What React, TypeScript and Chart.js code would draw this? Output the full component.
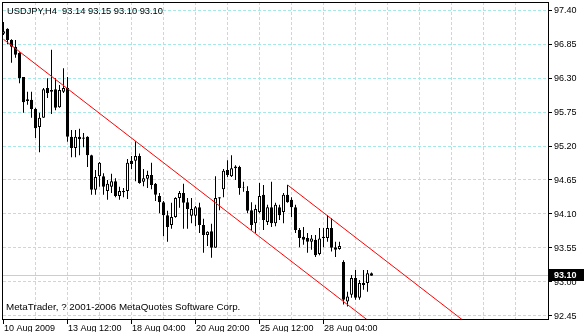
import React, { useEffect, useRef } from 'react';
import { Chart, registerables } from 'chart.js';

Chart.register(...registerables);

// ---- data (USDJPY, H4) ----
const opens = [
  97.02, 97.10, 96.92, 96.81, 96.71, 96.32, 95.96, 95.95, 95.80, 95.51,
  95.66, 96.14, 96.08, 96.12, 95.83, 96.08, 96.14, 95.35, 95.17, 95.35,
  95.34, 95.35, 95.05, 94.49, 94.71, 94.71, 94.47, 94.54, 94.63, 94.39,
  94.47, 94.47, 94.96, 94.96, 95.04, 94.62, 94.67, 94.73, 94.59, 94.39,
  94.29, 94.08, 93.92, 94.05, 94.36, 94.44, 94.29, 94.07, 94.07, 94.21,
  93.92, 93.76, 93.82, 93.55, 94.37, 94.50, 94.81, 94.71, 94.87, 94.86,
  94.53, 94.47, 94.16, 93.95, 94.13, 94.41, 93.97, 94.21, 93.95, 94.21,
  94.13, 94.41, 94.33, 94.21, 93.84, 93.73, 93.71, 93.65, 93.68, 93.45,
  93.71, 93.71, 93.87, 93.56, 93.53, 93.32, 92.68, 92.79, 93.06, 92.74,
  92.95, 92.98, 93.14,
];
const highs = [
  97.21, 97.11, 96.93, 96.92, 96.72, 96.32, 96.08, 96.08, 95.82, 95.74,
  96.14, 96.30, 96.76, 96.30, 96.19, 96.46, 96.32, 95.46, 95.46, 95.48,
  95.41, 95.36, 95.06, 94.81, 94.94, 94.76, 94.65, 94.75, 94.68, 94.54,
  94.52, 94.99, 95.04, 95.28, 95.08, 94.83, 94.80, 94.93, 94.60, 94.44,
  94.31, 94.15, 94.28, 94.37, 94.47, 94.59, 94.36, 94.36, 94.23, 94.28,
  94.02, 93.82, 93.94, 94.71, 94.37, 94.83, 94.97, 95.05, 94.89, 94.88,
  94.62, 94.55, 94.29, 94.25, 94.60, 94.57, 94.25, 94.62, 94.28, 94.25,
  94.44, 94.57, 94.37, 94.25, 93.87, 93.89, 93.79, 93.76, 93.76, 93.87,
  93.87, 94.08, 94.03, 93.65, 93.65, 93.35, 92.84, 93.11, 93.19, 93.03,
  93.19, 93.19, 93.15,
];
const lows = [
  97.00, 96.85, 96.55, 96.63, 96.22, 95.74, 95.87, 95.66, 95.33, 95.10,
  95.66, 95.98, 95.72, 95.78, 95.82, 96.06, 95.27, 95.02, 95.02, 95.05,
  95.18, 94.86, 94.41, 94.41, 94.54, 94.41, 94.33, 94.44, 94.37, 94.33,
  94.37, 94.34, 94.83, 94.63, 94.59, 94.55, 94.52, 94.50, 94.31, 94.11,
  93.74, 93.65, 93.86, 94.04, 94.20, 93.86, 93.86, 93.95, 93.90, 93.79,
  93.47, 93.58, 93.39, 93.55, 94.16, 94.37, 94.70, 94.70, 94.65, 94.41,
  94.46, 94.11, 93.84, 93.79, 94.11, 93.84, 93.92, 93.89, 93.90, 94.00,
  93.95, 94.28, 94.05, 93.79, 93.56, 93.60, 93.47, 93.52, 93.40, 93.43,
  93.56, 93.65, 93.49, 93.40, 93.52, 92.63, 92.60, 92.74, 92.71, 92.71,
  92.87, 92.84, 93.10,
];
const closes = [
  97.06, 96.92, 96.81, 96.68, 96.30, 95.91, 95.93, 95.80, 95.49, 95.66,
  96.12, 96.06, 96.11, 95.82, 96.11, 96.14, 95.35, 95.17, 95.35, 95.31,
  95.32, 95.05, 94.49, 94.70, 94.93, 94.54, 94.59, 94.63, 94.39, 94.47,
  94.45, 94.93, 94.91, 95.04, 94.60, 94.68, 94.73, 94.57, 94.41, 94.29,
  94.08, 93.89, 94.05, 94.36, 94.44, 94.28, 94.18, 94.18, 94.21, 93.92,
  93.76, 93.81, 93.55, 94.36, 94.35, 94.80, 94.73, 94.84, 94.84, 94.52,
  94.52, 94.15, 93.92, 94.18, 94.39, 94.00, 94.21, 93.95, 94.25, 94.08,
  94.41, 94.29, 94.21, 93.84, 93.71, 93.68, 93.65, 93.70, 93.43, 93.70,
  93.73, 93.87, 93.55, 93.52, 93.58, 92.71, 92.76, 93.06, 92.74, 92.98,
  92.98, 93.14, 93.10,
];

const yTicks = [97.40, 96.85, 96.30, 95.75, 95.20, 94.65, 94.10, 93.55, 93.00, 92.45];
const gridIdx = [8, 16, 24, 32, 40, 48, 56, 64, 72, 80, 88, 96, 104, 112, 120, 128];
const xLabelIdx = [0, 16, 32, 48, 64, 80];
const xLabels = ['10 Aug 2009', '13 Aug 12:00', '18 Aug 04:00', '20 Aug 20:00', '25 Aug 12:00', '28 Aug 04:00'];

// trend-line anchors (bar index, price)
const trendLower = [{ x: 0, y: 96.93 }, { x: 100, y: 91.93 }];
const trendUpper = [{ x: 71, y: 94.57 }, { x: 130, y: 91.62 }];

const symbol = 'USDJPY,H4';
const copyright = 'MetaTrader, ? 2001-2006 MetaQuotes Software Corp.';

const FONT = '"Liberation Sans", Arial, sans-serif';
const GRID = '#a6e8e8';
const BID_LINE = '#a6dede';

export default function App() {
  const ref = useRef<HTMLCanvasElement | null>(null);

  useEffect(() => {
    const canvas = ref.current;
    if (!canvas) return;
    const n = closes.length;
    const idx = closes.map((_, i) => i);
    const last = n - 1;
    const bid = closes[last];

    const overlay = {
      id: 'mt4overlay',
      beforeDatasetsDraw(chart: any) {
        const { ctx, chartArea: a, scales } = chart;
        ctx.save();
        ctx.lineWidth = 1;
        ctx.strokeStyle = GRID;
        ctx.setLineDash([3, 2]);
        // horizontal grid
        for (const v of yTicks) {
          const py = Math.floor(scales.y.getPixelForValue(v)) + 0.5;
          ctx.beginPath();
          ctx.moveTo(a.left, py);
          ctx.lineTo(a.right, py);
          ctx.stroke();
        }
        // vertical grid
        for (const i of gridIdx) {
          const px = Math.floor(scales.x.getPixelForValue(i)) + 0.5;
          ctx.beginPath();
          ctx.moveTo(px, a.top);
          ctx.lineTo(px, a.bottom);
          ctx.stroke();
        }
        ctx.setLineDash([]);
        // bid line
        const pb = Math.floor(scales.y.getPixelForValue(bid)) + 0.5;
        ctx.strokeStyle = BID_LINE;
        ctx.beginPath();
        ctx.moveTo(a.left, pb);
        ctx.lineTo(a.right, pb);
        ctx.stroke();
        ctx.restore();
      },
      afterDraw(chart: any) {
        const { ctx, chartArea: a, scales } = chart;
        ctx.save();
        ctx.lineWidth = 1;
        ctx.strokeStyle = '#000';
        ctx.fillStyle = '#000';
        // frame
        ctx.strokeRect(a.left - 0.5, a.top + 0.5, a.right - a.left + 1, a.bottom - a.top);
        // right price axis
        ctx.font = `9px ${FONT}`;
        ctx.textAlign = 'left';
        ctx.textBaseline = 'middle';
        for (const v of yTicks) {
          const p = scales.y.getPixelForValue(v);
          const py = Math.floor(p) + 0.5;
          ctx.beginPath();
          ctx.moveTo(a.right + 1, py);
          ctx.lineTo(a.right + 4, py);
          ctx.stroke();
          ctx.fillText(v.toFixed(2), a.right + 6, p + 0.5);
        }
        // time axis
        ctx.textBaseline = 'alphabetic';
        xLabelIdx.forEach((i, k) => {
          const px = Math.floor(scales.x.getPixelForValue(i)) + 0.5;
          ctx.beginPath();
          ctx.moveTo(px, a.bottom + 1);
          ctx.lineTo(px, a.bottom + 5);
          ctx.stroke();
          ctx.fillText(xLabels[k], px + 0.5, 331);
        });
        // header
        ctx.font = `9.3px ${FONT}`;
        const hdr = `${symbol}  ${opens[last].toFixed(2)} ${highs[last].toFixed(2)} ${lows[last].toFixed(2)} ${closes[last].toFixed(2)}`;
        ctx.fillText(hdr, 7, 14);
        // copyright
        ctx.font = `9.8px ${FONT}`;
        ctx.fillText(copyright, 6, 310);
        // bid price box
        const pyb = scales.y.getPixelForValue(bid);
        const top = Math.floor(pyb) - 6;
        ctx.fillRect(a.right + 1, top, chart.width - a.right - 1, 12);
        ctx.fillStyle = '#fff';
        ctx.font = `bold 9px ${FONT}`;
        ctx.textBaseline = 'middle';
        ctx.fillText(bid.toFixed(2), a.right + 6, top + 6.5);
        ctx.restore();
      },
    };

    const chart = new Chart(canvas, {
      type: 'bar',
      data: {
        datasets: [
          {
            type: 'line',
            data: trendLower,
            borderColor: '#ff0000',
            borderWidth: 1,
            pointRadius: 0,
            tension: 0,
            order: 0,
          } as any,
          {
            type: 'line',
            data: trendUpper,
            borderColor: '#ff0000',
            borderWidth: 1,
            pointRadius: 0,
            tension: 0,
            order: 0,
          } as any,
          {
            type: 'bar',
            data: idx.map((i) => ({ x: i, y: [opens[i], closes[i]] })),
            backgroundColor: idx.map((i) => (closes[i] >= opens[i] ? '#ffffff' : '#000000')),
            borderColor: '#000000',
            borderWidth: 1,
            borderSkipped: false,
            barThickness: 3,
            grouped: false,
            inflateAmount: 0,
            order: 1,
          } as any,
          {
            type: 'bar',
            data: idx.map((i) => ({ x: i, y: [lows[i], highs[i]] })),
            backgroundColor: '#000000',
            borderWidth: 0,
            barThickness: 1,
            grouped: false,
            inflateAmount: 0,
            order: 2,
          } as any,
        ],
      },
      options: {
        responsive: false,
        animation: false,
        devicePixelRatio: 1,
        layout: { padding: { left: 3, top: 2, right: 36, bottom: 13 } },
        plugins: { legend: { display: false }, tooltip: { enabled: false } },
        scales: {
          x: {
            type: 'linear',
            display: false,
            offset: false,
            min: -0.125,
            max: 136.125,
          },
          y: {
            type: 'linear',
            display: false,
            min: 92.397,
            max: 97.535,
          },
        },
      } as any,
      plugins: [overlay],
    });

    return () => chart.destroy();
  }, []);

  return (
    <div style={{ position: 'fixed', left: 0, top: 0, width: 584, height: 332, background: '#fff' }}>
      <canvas ref={ref} width={584} height={332} style={{ display: 'block', width: 584, height: 332 }} />
    </div>
  );
}
